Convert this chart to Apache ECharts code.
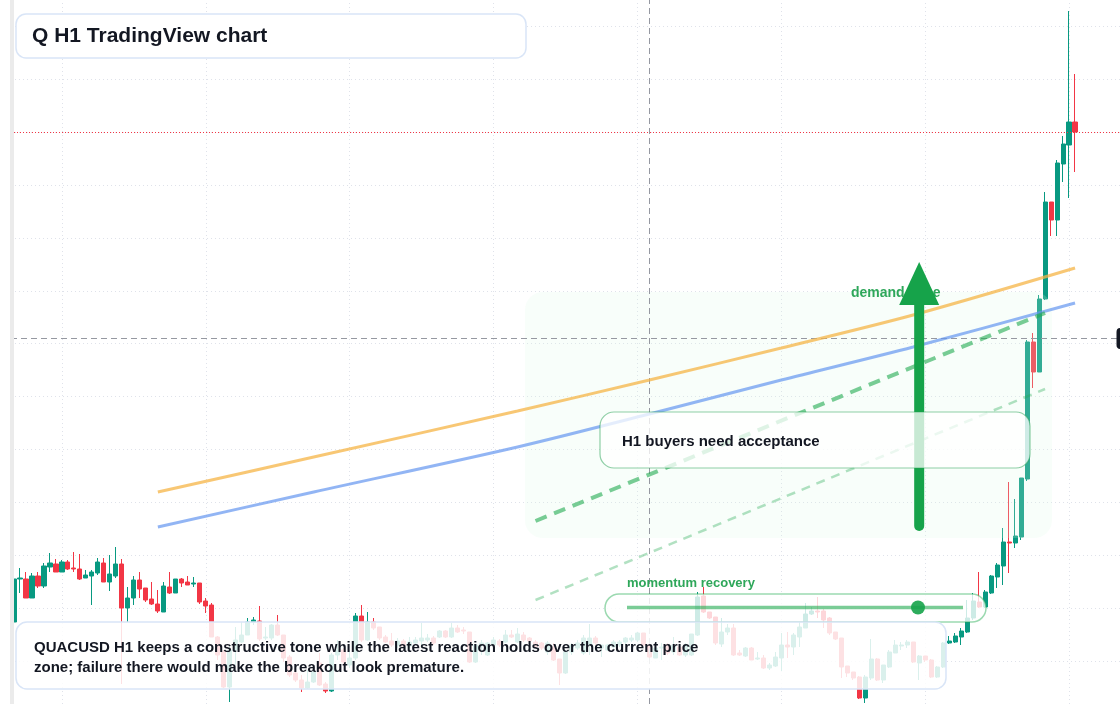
<!DOCTYPE html>
<html>
<head>
<meta charset="utf-8">
<title>Q H1 TradingView chart</title>
<script src="https://cdn.jsdelivr.net/npm/echarts@6/dist/echarts.min.js"></script>
<style>
  html, body { margin: 0; padding: 0; background: #fff; }
  #chart { width: 1120px; height: 704px; }
</style>
</head>
<body>
<div id="chart"></div>
<script>
// hourly slots (candles + empty space on the right)
const hours = []
for (let i = 0; i < 185; i++) {
  const h = (i + 16) % 24
  const d = 1 + Math.floor((i + 16) / 24)
  hours.push('03-' + String(d).padStart(2, '0') + ' ' + String(h).padStart(2, '0') + ':00')
}

// QUACUSD H1 candles
const opens = [9.2,13.5,13.5,11.6,13.8,12.8,14.7,15.0,14.2,15.2,
  14.6,14.5,13.6,13.8,14.1,15.1,13.2,13.8,15.0,10.6,
  11.6,13.4,12.6,11.5,11.0,10.2,12.7,12.1,13.5,13.2,
  13.0,13.1,11.3,10.9,7.7,6.2,2.7,6.4,7.2,7.9,
  9.2,9.3,7.6,7.6,8.9,7.9,5.7,4.1,3.4,2.6,
  3.2,5.1,3.0,2.3,5.9,6.4,4.9,5.6,9.8,7.4,
  9.2,8.7,7.7,7.3,6.9,7.3,6.8,7.1,7.3,7.4,
  7.6,7.7,8.3,7.7,8.6,8.4,8.2,5.2,6.9,5.9,
  6.9,7.3,7.2,7.9,7.2,7.9,7.6,7.2,7.1,6.2,
  6.6,5.5,4.1,6.2,6.6,6.1,6.9,7.6,6.6,6.4,
  6.7,6.9,7.2,7.4,7.4,8.1,6.9,5.6,6.6,6.9,
  6.2,6.7,5.9,5.9,7.9,11.8,10.2,9.7,7.0,8.2,
  8.6,6.1,5.8,6.6,5.5,5.6,4.6,4.8,5.6,6.9,
  6.7,7.7,8.6,10.0,10.3,10.3,9.6,8.2,7.6,4.8,
  4.2,3.7,1.6,3.6,5.5,3.4,4.7,6.1,6.8,6.9,
  7.2,5.1,5.8,5.4,3.7,4.7,7.1,7.2,7.7,8.2,
  9.6,11.2,10.7,12.1,13.7,14.8,17.2,17.1,17.7,23.5,
  37.2,34.2,41.5,51.2,49.4,55.0,56.9,59.2]
const closes = [13.5,13.6,11.6,13.8,12.8,14.8,15.1,14.2,15.2,14.5,
  14.5,13.5,13.9,14.2,15.2,13.2,14.0,15.0,10.6,11.6,
  13.4,12.5,11.4,11.0,10.3,12.8,12.1,13.5,13.1,12.9,
  13.1,11.2,10.8,7.7,5.9,2.7,6.4,7.4,7.9,9.2,
  9.4,7.5,7.7,8.9,7.9,5.6,3.9,3.4,2.6,3.2,
  4.2,2.9,2.3,5.9,6.4,5.2,5.6,9.8,7.4,9.2,
  8.6,7.6,7.2,6.9,7.3,6.8,7.2,7.4,7.6,7.6,
  7.1,8.3,7.7,8.6,8.2,8.3,5.2,6.9,7.1,7.1,
  7.4,6.9,7.9,7.7,8.0,7.4,7.3,6.7,6.6,7.1,
  5.4,4.1,6.2,6.9,7.1,7.6,7.6,7.1,6.9,6.9,
  7.2,7.2,7.6,7.6,8.1,6.9,5.7,6.6,6.7,6.1,
  6.9,5.9,6.9,8.0,11.7,10.2,9.6,7.1,8.2,8.6,
  5.9,5.9,6.6,5.4,5.6,4.6,4.9,5.7,6.9,6.7,
  7.9,8.7,10.0,10.3,10.2,9.4,8.1,7.5,4.7,4.1,
  3.6,1.6,3.7,5.5,3.4,4.9,6.2,6.9,6.9,7.2,
  5.2,5.8,5.4,3.7,4.7,7.1,7.3,7.8,8.3,9.6,
  11.3,10.7,12.2,13.8,14.9,17.2,17.1,17.8,23.6,37.2,
  34.2,41.5,51.2,49.4,55.1,57.0,59.2,58.2]
const lows = [9.0,12.1,11.6,11.6,12.6,12.6,14.2,14.2,14.2,14.4,
  14.2,13.4,13.6,10.9,13.9,13.2,12.3,13.6,3.0,9.2,
  10.9,11.6,11.2,10.9,10.1,10.2,12.0,12.1,12.7,12.9,
  12.7,11.0,10.1,7.7,5.4,2.6,1.2,4.9,7.1,7.9,
  8.9,7.3,7.4,7.4,7.8,5.2,3.7,3.2,2.2,2.5,
  3.1,2.8,2.1,2.2,5.4,4.8,4.6,5.4,7.2,7.3,
  8.4,7.4,7.1,6.7,6.6,6.4,6.6,6.9,6.9,7.2,
  6.9,7.6,7.6,7.6,8.1,8.0,5.1,5.1,5.9,5.8,
  6.7,6.7,7.1,7.6,7.1,7.2,7.1,6.6,6.4,5.9,
  5.3,2.9,4.0,5.9,6.4,5.9,5.9,6.9,5.7,6.3,
  6.4,6.7,6.9,7.2,7.2,6.8,5.6,5.6,5.4,5.9,
  5.9,5.8,5.7,5.8,7.8,10.1,9.5,6.9,6.7,7.9,
  5.8,5.8,5.7,5.4,5.4,4.5,4.4,4.7,4.3,5.6,
  5.9,6.7,8.6,9.9,9.6,8.6,7.9,7.4,3.6,3.7,
  3.4,1.5,1.1,3.4,3.3,3.1,4.6,6.1,6.4,6.6,
  5.1,3.4,5.2,3.6,3.6,4.6,7.0,7.1,6.9,8.1,
  9.4,10.6,10.6,12.0,12.6,12.9,14.1,16.6,17.4,23.3,
  32.6,34.2,41.4,47.8,47.8,53.2,51.6,54.2]
const highs = [13.7,14.6,14.2,14.1,14.2,15.1,16.1,15.5,15.4,15.4,
  16.2,16.0,14.4,14.4,15.6,15.6,15.9,16.7,15.5,12.7,
  13.8,14.2,12.6,13.2,12.4,13.2,14.2,13.5,13.6,13.8,
  13.7,13.1,11.6,11.1,7.8,6.4,6.9,8.7,9.2,9.6,
  9.7,10.8,8.7,9.0,9.9,7.9,5.9,4.7,3.9,4.4,
  4.6,6.1,3.2,6.1,7.4,6.6,6.4,10.1,10.9,10.2,
  9.6,8.7,7.9,8.1,7.6,7.5,7.7,7.7,9.1,8.0,
  7.8,8.4,8.4,9.1,8.9,8.7,8.2,7.0,7.4,7.2,
  7.7,7.5,8.4,8.4,8.6,8.2,7.7,7.4,7.2,7.3,
  7.1,5.5,6.4,7.1,7.4,7.9,9.0,7.8,6.9,7.0,
  7.4,7.4,7.7,7.9,8.2,8.1,7.1,6.7,7.1,7.1,
  7.7,6.7,7.1,8.0,12.2,12.7,10.2,9.7,9.6,9.0,
  9.0,6.4,6.7,6.7,6.2,5.9,5.1,6.2,8.1,8.2,
  8.1,9.2,11.1,10.7,11.7,10.5,9.7,8.2,7.6,4.8,
  4.2,3.8,3.9,7.5,5.6,4.9,6.4,7.4,7.2,7.4,
  7.2,5.9,5.8,5.5,4.8,7.2,7.8,8.1,8.6,11.4,
  12.1,14.2,12.4,13.9,15.1,18.6,23.2,21.5,23.6,37.4,
  38.1,41.9,52.2,51.2,55.4,57.8,70.3,64.0]

// price grid levels
const priceStep = 5.29
const priceLevels = []
for (let k = 1; k <= 13; k++) priceLevels.push(+(k * priceStep).toFixed(2))

// moving averages [slot, price]
const emaSlow = [[24, 22.2], [50, 25.7], [84, 30.3], [106, 33.4], [128, 36.6], [150, 39.9], [177, 44.6]]
const emaFast = [[24, 18.7], [50, 22.2], [84, 26.7], [106, 30.0], [128, 33.4], [150, 36.7], [177, 41.1]]
// drawn trend lines
const trendMain = [[87, 19.3], [172, 40.1]]
const trendLow = [[87, 11.4], [172, 32.5]]
// demand arrow
const arrowShaft = [[151, 18.8], [151, 41.4]]
const arrowHead = [[151, 43.05]]

const crossSlot = 106
const crossPrice = 37.6
const lastPrice = closes[closes.length - 1]

const candles = opens.map((o, i) => [o, closes[i], lows[i], highs[i]])
const dayLines = hours.map((h, i) => h.endsWith('00:00') ? i : -1).filter(i => i >= 0)

const UP = '#089981'
const DOWN = '#f23645'
const GRID = '#dfe2ea'
const FONT = '"Liberation Sans", Arial, sans-serif'

const chart = echarts.init(document.getElementById('chart'), null, { renderer: 'canvas' })

const option = {
  animation: false,
  backgroundColor: '#ffffff',
  grid: { left: 11, right: 0, top: 0, bottom: 0 },
  xAxis: {
    type: 'category',
    data: hours,
    boundaryGap: true,
    axisLine: { show: false },
    axisTick: { show: false },
    axisLabel: { show: false },
    splitLine: { show: false }
  },
  yAxis: {
    type: 'value',
    min: 1.0,
    max: 71.4,
    axisLine: { show: false },
    axisTick: { show: false },
    axisLabel: { show: false },
    splitLine: { show: false }
  },
  series: [
    {
      // chart grid: day columns and price rows
      type: 'line',
      data: [],
      silent: true,
      markLine: {
        z: 1,
        silent: true,
        symbol: ['none', 'none'],
        label: { show: false },
        lineStyle: { color: GRID, type: [1, 3], width: 1 },
        data: dayLines.map(i => ({ xAxis: i })).concat(priceLevels.map(p => ({ yAxis: p })))
      }
    },
    {
      type: 'candlestick',
      z: 2,
      barWidth: 4.6,
      data: candles,
      itemStyle: {
        color: UP, color0: DOWN,
        borderColor: UP, borderColor0: DOWN,
        borderWidth: 1
      },
      markLine: {
        z: 4,
        silent: true,
        symbol: ['none', 'none'],
        label: { show: false },
        data: [
          { yAxis: lastPrice, lineStyle: { color: DOWN, type: [1, 2], width: 1 } },
          { xAxis: crossSlot, lineStyle: { color: '#9598a1', type: [6, 4], width: 1 } },
          { yAxis: crossPrice, lineStyle: { color: '#9598a1', type: [6, 4], width: 1 } }
        ]
      }
    },
    {
      name: 'EMA slow',
      type: 'line',
      z: 4,
      smooth: 0.3,
      showSymbol: false,
      silent: true,
      data: emaSlow,
      lineStyle: { color: 'rgba(245,180,70,0.75)', width: 3 }
    },
    {
      name: 'EMA fast',
      type: 'line',
      z: 4,
      smooth: 0.3,
      showSymbol: false,
      silent: true,
      data: emaFast,
      lineStyle: { color: 'rgba(100,150,240,0.7)', width: 3 }
    },
    {
      type: 'line',
      z: 4,
      showSymbol: false,
      silent: true,
      data: trendMain,
      lineStyle: { color: 'rgba(34,170,80,0.6)', width: 4, type: [12, 8] }
    },
    {
      type: 'line',
      z: 4,
      showSymbol: false,
      silent: true,
      data: trendLow,
      lineStyle: { color: 'rgba(34,170,80,0.35)', width: 2.5, type: [9, 7] }
    },
    {
      type: 'line',
      z: 4,
      showSymbol: false,
      silent: true,
      data: arrowShaft,
      lineStyle: { color: '#16a34a', width: 10, cap: 'round' }
    },
    {
      type: 'scatter',
      z: 4,
      silent: true,
      symbol: 'triangle',
      symbolSize: [40, 43],
      data: arrowHead,
      itemStyle: { color: '#16a34a', opacity: 1 }
    }
  ],
  graphic: [
    { type: 'rect', z: 3, silent: true,
      shape: { x: 525, y: 292, width: 527, height: 246, r: 18 },
      style: { fill: 'rgba(220,248,228,0.2)' } },
    { type: 'text', z: 3, silent: true, x: 851, y: 293,
      style: { text: 'demand zone', fill: '#2ea75a', font: 'bold 14px ' + FONT, verticalAlign: 'middle' } },

    { type: 'rect', z: 5, silent: true,
      shape: { x: 600, y: 412, width: 430, height: 56, r: 14 },
      style: { fill: 'rgba(255,255,255,0.76)', stroke: 'rgba(34,160,80,0.5)', lineWidth: 1.2 } },
    { type: 'text', z: 6, silent: true, x: 622, y: 442,
      style: { text: 'H1 buyers need acceptance', fill: '#131722', font: 'bold 15px ' + FONT, verticalAlign: 'middle' } },

    { type: 'text', z: 6, silent: true, x: 627, y: 583,
      style: { text: 'momentum recovery', fill: '#2ea75a', font: 'bold 13px ' + FONT, verticalAlign: 'middle' } },
    { type: 'rect', z: 6, silent: true,
      shape: { x: 605, y: 594, width: 381, height: 28, r: 14 },
      style: { fill: 'rgba(255,255,255,0.8)', stroke: 'rgba(34,170,80,0.45)', lineWidth: 1.5 } },
    { type: 'line', z: 7, silent: true,
      shape: { x1: 627, y1: 607.5, x2: 963, y2: 607.5 },
      style: { stroke: 'rgba(34,170,80,0.6)', lineWidth: 3.5 } },
    { type: 'circle', z: 7, silent: true,
      shape: { cx: 918, cy: 607.5, r: 7 },
      style: { fill: 'rgba(22,163,74,0.9)' } },

    { type: 'rect', z: 6, silent: true,
      shape: { x: 16, y: 622, width: 930, height: 67, r: 11 },
      style: { fill: 'rgba(255,255,255,0.85)', stroke: '#d9e5f7', lineWidth: 1.5 } },
    { type: 'text', z: 7, silent: true, x: 34, y: 648,
      style: { text: 'QUACUSD H1 keeps a constructive tone while the latest reaction holds over the current price', fill: '#131722', font: 'bold 15px ' + FONT, verticalAlign: 'middle' } },
    { type: 'text', z: 7, silent: true, x: 34, y: 668,
      style: { text: 'zone; failure there would make the breakout look premature.', fill: '#131722', font: 'bold 15px ' + FONT, verticalAlign: 'middle' } },

    { type: 'rect', z: 6, silent: true,
      shape: { x: 16, y: 14, width: 510, height: 44, r: 10 },
      style: { fill: '#ffffff', stroke: '#d9e5f7', lineWidth: 1.5 } },
    { type: 'text', z: 7, silent: true, x: 32, y: 36,
      style: { text: 'Q H1 TradingView chart', fill: '#131722', font: 'bold 21px ' + FONT, verticalAlign: 'middle' } },

    { type: 'rect', z: 8, silent: true,
      shape: { x: 10, y: 0, width: 4, height: 704 },
      style: { fill: '#ebebeb' } },
    { type: 'rect', z: 8, silent: true,
      shape: { x: 1116.5, y: 328, width: 20, height: 21, r: 4 },
      style: { fill: '#131722' } }
  ]
}

chart.setOption(option)
</script>
</body>
</html>
